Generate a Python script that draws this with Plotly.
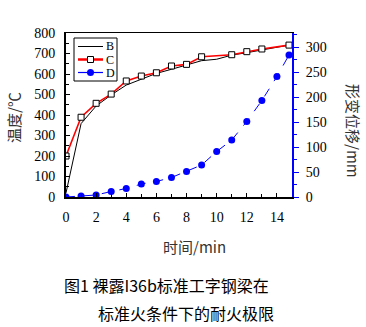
import plotly.graph_objects as go

# Time axis (min) and the three measured series
t_B = [0, 1, 2, 3, 4, 5, 6, 7, 8, 9, 10, 11, 12, 13, 14, 14.8]
temp_B = [20, 358, 444, 498, 546, 574, 603, 623, 644, 665, 672, 692, 704, 717, 728, 741]

t_C = [0, 1, 2, 3, 4, 5, 6, 7, 8, 9, 11, 12, 13, 14.8]
temp_C = [200, 389, 457, 502, 566, 590, 606, 639, 647, 684, 694, 709, 722, 741]

t_D = [0, 1, 2, 3, 4, 5, 6, 7, 8, 9, 10, 11, 12, 13, 14, 14.8]
disp_D = [0, 2, 4, 11, 17, 26, 31, 39, 51, 64, 91, 114, 151, 193, 241, 284]

x_ticks = [0, 2, 4, 6, 8, 10, 12, 14]
y_ticks = [0, 100, 200, 300, 400, 500, 600, 700, 800]
y2_ticks = [0, 50, 100, 150, 200, 250, 300]
series_names = ["B", "C", "D"]

SERIF = "Liberation Serif"
CJK = "Noto Sans CJK SC"
BLUE = "#0000ff"

fig = go.Figure()
fig.add_trace(go.Scatter(x=t_B, y=temp_B, name="B", mode="lines",
                         line=dict(color="black", width=1)))
fig.add_trace(go.Scatter(x=t_C, y=temp_C, name="C", mode="lines+markers",
                         line=dict(color="red", width=1.6),
                         marker=dict(symbol="square", size=6, color="white",
                                     line=dict(color="black", width=1))))
fig.add_trace(go.Scatter(x=t_D, y=disp_D, name="D", mode="lines+markers", yaxis="y2",
                         line=dict(color=BLUE, width=1, dash="dash"),
                         marker=dict(symbol="circle", size=7, color=BLUE)))
# empty trace so the top frame axis is drawn
fig.add_trace(go.Scatter(x=[None], y=[None], xaxis="x2", showlegend=False))

W, H = 366, 327
L, R, T, B = 66, 74, 33, 130

fig.update_layout(
    width=W, height=H,
    margin=dict(l=L, r=R, t=T, b=B),
    paper_bgcolor="white", plot_bgcolor="white",
    font=dict(family=SERIF, size=14, color="black"),
    showlegend=False,
    xaxis=dict(range=[0, 15], tickvals=x_ticks, ticks="inside", ticklen=4,
               tickcolor="black", showline=True, linecolor="black", linewidth=2,
               showgrid=False, zeroline=False,
               minor=dict(dtick=1, ticks="inside", ticklen=3, tickcolor="black"),
               ticklabelstandoff=6),
    xaxis2=dict(range=[0, 15], overlaying="x", side="top", showline=True,
                linecolor="black", linewidth=1, showticklabels=False,
                ticks="", showgrid=False, zeroline=False),
    yaxis=dict(range=[0, 800], tickvals=y_ticks, ticks="inside", ticklen=4,
               tickcolor="black", showline=True, linecolor="black", linewidth=2,
               showgrid=False, zeroline=False,
               minor=dict(dtick=50, ticks="inside", ticklen=3, tickcolor="black"),
               ticklabelstandoff=6),
    yaxis2=dict(range=[0, 328], tickvals=y2_ticks, overlaying="y", side="right",
                ticks="outside", ticklen=5, tickcolor=BLUE,
                showline=True, linecolor=BLUE, linewidth=2,
                showgrid=False, zeroline=False,
                minor=dict(dtick=25, ticks="outside", ticklen=3, tickcolor=BLUE),
                ticklabelstandoff=4),
)

pw, ph = W - L - R, H - T - B


def px(x):
    return (x - L) / pw


def py(y):
    return (H - B - y) / ph


# Compact legend box drawn in paper space
fig.add_shape(type="rect", xref="paper", yref="paper",
              x0=px(74), x1=px(117), y0=py(81), y1=py(38),
              line=dict(color="black", width=1), fillcolor="white", layer="above")
legend_rows = [46.5, 59.5, 72.5]
legend_lines = [dict(color="black", width=1), dict(color="red", width=2.5),
                dict(color=BLUE, width=1.2)]
for name, yy, ln in zip(series_names, legend_rows, legend_lines):
    fig.add_shape(type="line", xref="paper", yref="paper",
                  x0=px(78), x1=px(103), y0=py(yy), y1=py(yy), line=ln, layer="above")
    fig.add_annotation(text=name, x=px(105), y=py(yy), xref="paper", yref="paper",
                       xanchor="left", yanchor="middle", showarrow=False, borderpad=0,
                       font=dict(family=SERIF, size=12, color="black"))
fig.add_shape(type="rect", xref="paper", yref="paper",
              x0=px(87.5), x1=px(93.5), y0=py(legend_rows[1] + 3), y1=py(legend_rows[1] - 3),
              line=dict(color="black", width=1), fillcolor="white", layer="above")
fig.add_shape(type="circle", xref="paper", yref="paper",
              x0=px(87), x1=px(94), y0=py(legend_rows[2] + 3.5), y1=py(legend_rows[2] - 3.5),
              line=dict(color=BLUE, width=0), fillcolor=BLUE, layer="above")

title_font = dict(family=CJK, size=15, color="#333333")
common = dict(xref="paper", yref="paper", showarrow=False, yanchor="middle")
fig.add_annotation(text="温度/℃", x=px(13), y=py(118), textangle=-90,
                   xanchor="center", font=title_font, **common)
fig.add_annotation(text="形变位移/mm", x=px(354), y=py(131), textangle=90,
                   xanchor="center", font=title_font, **common)
fig.add_annotation(text="时间/min", x=px(194), y=py(246), xanchor="center",
                   font=title_font, **common)

cap_font = dict(family=CJK, size=16, color="black")
fig.add_annotation(text="图1 裸露I36b标准工字钢梁在", x=px(62), y=py(285),
                   xanchor="left", font=cap_font, **common)
fig.add_annotation(text="标准火条件下的耐火极限", x=px(96), y=py(313),
                   xanchor="left", font=cap_font, **common)

fig.write_html("out.html")
